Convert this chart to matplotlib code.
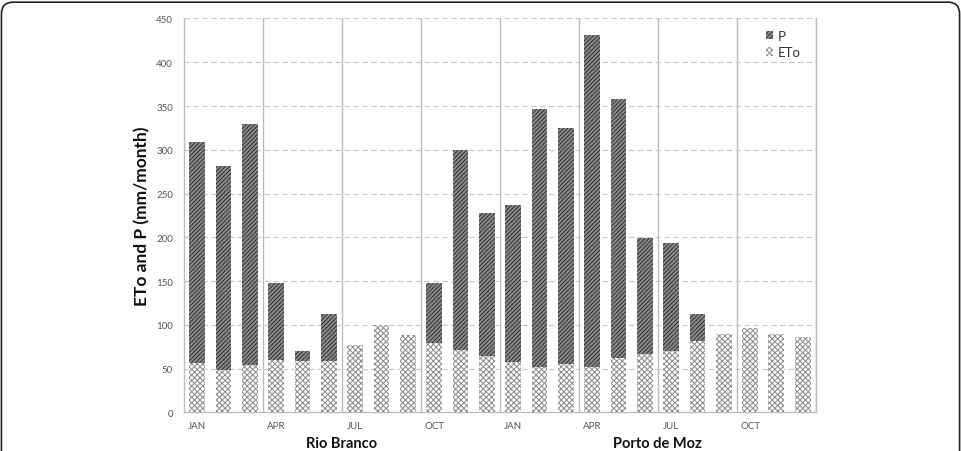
import matplotlib
matplotlib.use("Agg")
import matplotlib.pyplot as plt
from matplotlib.patches import FancyBboxPatch, Patch
import numpy as np

plt.rcParams['font.family'] = ['Lato', 'DejaVu Sans']
plt.rcParams['hatch.linewidth'] = 0.7

months = ["JAN", "FEB", "MAR", "APR", "MAY", "JUN", "JUL", "AUG", "SEP", "OCT", "NOV", "DEC"]
stations = ["Rio Branco", "Porto de Moz"]

p_rio = [309, 282, 330, 148, 70, 113, 45, 55, 80, 148, 300, 228]
eto_rio = [56, 48, 54, 60, 59, 59, 77, 100, 89, 79, 71, 65]
p_moz = [237, 347, 325, 431, 358, 199, 194, 113, 60, 50, 40, 55]
eto_moz = [58, 52, 55, 52, 62, 67, 70, 82, 90, 97, 90, 86]

P = p_rio + p_moz
ETo = eto_rio + eto_moz
labels = [m if i % 3 == 0 else "" for i, m in enumerate(months)] * 2

P_FACE, P_HATCH = '#8a8a8a', '#333333'
E_FACE, E_HATCH = 'white', '#8a8a8a'

fig = plt.figure(figsize=(9.61, 4.52), dpi=100)
ax = fig.add_axes([0.1915, 0.0852, 0.6575, 0.8717])

x = np.arange(len(P))
ax.bar(x, P, width=0.6, facecolor=P_FACE, edgecolor=P_HATCH, hatch='////////',
       linewidth=0, label='P', zorder=3)
ax.bar(x, ETo, width=0.6, facecolor=E_FACE, edgecolor=E_HATCH, hatch='xxxxxx',
       linewidth=0, label='ETo', zorder=4)

ax.set_xlim(-0.5, len(P) - 0.5)
ax.set_ylim(0, 450)
ax.set_yticks(np.arange(0, 451, 50))
ax.set_xticks(x)
ax.set_xticklabels(labels)
ax.tick_params(axis='both', length=0, labelsize=7, colors='#555555')
ax.tick_params(axis='x', pad=6)
ax.tick_params(axis='y', pad=8)

for yv in np.arange(50, 451, 50):
    ax.axhline(yv, color='#c8c8c8', linestyle=(0, (5, 3)), linewidth=0.8, zorder=1)
for xv in np.arange(2.5, len(P), 3):
    ax.axvline(xv, color='#bdbdbd', linewidth=1.0, zorder=1)

ax.spines['top'].set_visible(False)
for s in ['left', 'bottom', 'right']:
    ax.spines[s].set_color('#bdbdbd')
    ax.spines[s].set_linewidth(1.0)

ax.set_ylabel("ETo and P (mm/month)", fontsize=12.5, fontweight='bold', color='#111111', labelpad=4)

trans = ax.get_xaxis_transform()
for k, name in enumerate(stations):
    ax.text(5.5 + 12 * k, -0.078, name, transform=trans, ha='center', va='center',
            fontsize=10.5, fontweight='bold', color='#111111')

handles = [Patch(facecolor=P_FACE, edgecolor=P_HATCH, hatch='////////', linewidth=0, label='P'),
           Patch(facecolor=E_FACE, edgecolor=E_HATCH, hatch='xxxxxx', linewidth=0, label='ETo')]
leg = ax.legend(handles=handles, loc='upper left', bbox_to_anchor=(0.912, 0.985), frameon=False,
                fontsize=9.5, handlelength=0.6, handleheight=0.6, handletextpad=0.3,
                labelspacing=0.35, borderaxespad=0)
for t in leg.get_texts():
    t.set_color('#333333')

frame = FancyBboxPatch((0.0015, -0.1), 0.997, 1.093, boxstyle="round,pad=0,rounding_size=0.012",
                       transform=fig.transFigure, facecolor='none', edgecolor='#222222',
                       linewidth=1.2, mutation_aspect=961/452)
fig.patches.append(frame)

fig.savefig("out.png", dpi=100)
